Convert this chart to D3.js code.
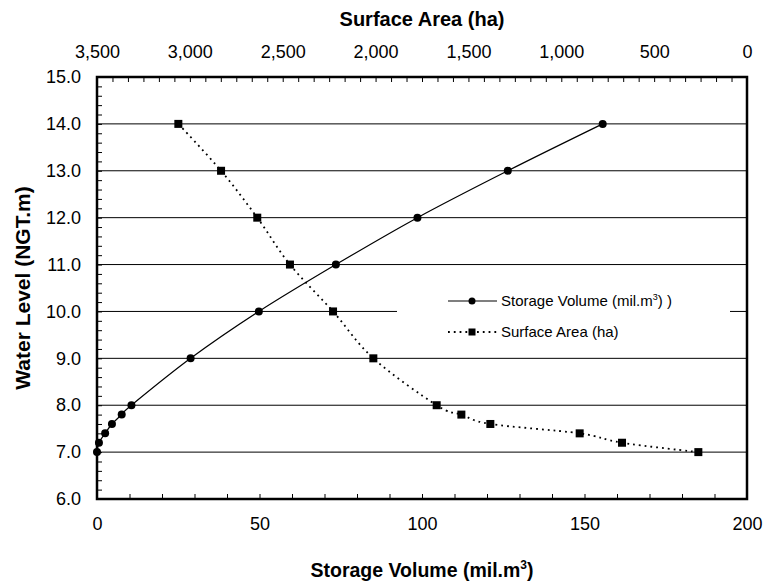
<!DOCTYPE html>
<html>
<head>
<meta charset="utf-8">
<script src="https://cdn.jsdelivr.net/npm/d3@7"></script>
<style>
  body { margin: 0; background: #fff; }
  svg text { font-family: "Liberation Sans", Arial, sans-serif; fill: #000; }
</style>
</head>
<body>
<div id="chart"></div>
<script>
// water level (m) for each surveyed step
const levels = [7.0, 7.2, 7.4, 7.6, 7.8, 8.0, 9.0, 10.0, 11.0, 12.0, 13.0, 14.0];
// storage volume (mil.m3)
const storageVolume = [0, 0.6, 2.5, 4.6, 7.6, 10.6, 28.8, 49.8, 73.5, 98.6, 126.4, 155.6];
// surface area (ha)
const surfaceArea = [262, 673, 901, 1382, 1538, 1671, 2012, 2229, 2461, 2637, 2832, 3062];

const volumeTicks = [0, 50, 100, 150, 200];
const areaTicks = [3500, 3000, 2500, 2000, 1500, 1000, 500, 0];
const levelTicks = [6, 7, 8, 9, 10, 11, 12, 13, 14, 15];
const gridLevels = [7, 8, 9, 10, 11, 12, 13, 14];

const W = 765, H = 584;
const margin = { top: 77, right: 18, bottom: 85, left: 97 };
const width = W - margin.left - margin.right;
const height = H - margin.top - margin.bottom;

const svgRoot = d3.select("#chart").append("svg")
    .attr("width", W)
    .attr("height", H);
const svg = svgRoot.append("g")
    .attr("transform", `translate(${margin.left},${margin.top})`);

const x = d3.scaleLinear().domain([0, 200]).range([0, width]);
const xTop = d3.scaleLinear().domain([3500, 0]).range([0, width]);
const y = d3.scaleLinear().domain([6, 15]).range([height, 0]);

// gridlines
svg.append("g")
    .selectAll("line")
    .data(gridLevels)
    .join("line")
    .attr("x1", 0).attr("x2", width)
    .attr("y1", d => y(d)).attr("y2", d => y(d))
    .attr("stroke", "#000")
    .attr("stroke-width", 1);

// minor (inward) ticks
svg.append("g")
    .attr("transform", `translate(0,${height})`)
    .call(d3.axisBottom(x).tickValues(d3.range(0, 201, 10)).tickSize(-5).tickFormat(""))
    .call(g => g.select(".domain").remove());
svg.append("g")
    .call(d3.axisTop(xTop).tickValues(d3.range(0, 3501, 500 / 6)).tickSize(-5).tickFormat(""))
    .call(g => g.select(".domain").remove());
svg.append("g")
    .call(d3.axisLeft(y).tickValues(d3.range(6, 15.01, 0.2)).tickSize(-5).tickFormat(""))
    .call(g => g.select(".domain").remove());

// labelled axes
const axisFont = g => g.selectAll("text").style("font-size", "18px");
svg.append("g")
    .attr("transform", `translate(0,${height})`)
    .call(d3.axisBottom(x).tickValues(volumeTicks).tickSize(0).tickPadding(18))
    .call(g => g.select(".domain").remove())
    .call(axisFont);
svg.append("g")
    .call(d3.axisTop(xTop).tickValues(areaTicks).tickSize(0).tickPadding(19).tickFormat(d3.format(",")))
    .call(g => g.select(".domain").remove())
    .call(axisFont);
svg.append("g")
    .call(d3.axisLeft(y).tickValues(levelTicks).tickSize(0).tickPadding(16).tickFormat(d3.format(".1f")))
    .call(g => g.select(".domain").remove())
    .call(axisFont);

// frame
svg.append("rect")
    .attr("width", width).attr("height", height)
    .attr("fill", "none")
    .attr("stroke", "#000")
    .attr("stroke-width", 2.5);

// lines
const volLine = d3.line()
    .x((d, i) => x(storageVolume[i]))
    .y(d => y(d))
    .curve(d3.curveCatmullRom.alpha(0));
const areaLine = d3.line()
    .x((d, i) => xTop(surfaceArea[i]))
    .y(d => y(d))
    .curve(d3.curveCatmullRom.alpha(0));

svg.append("path")
    .attr("d", volLine(levels))
    .attr("fill", "none")
    .attr("stroke", "#000")
    .attr("stroke-width", 1.2);
svg.append("path")
    .attr("d", areaLine(levels))
    .attr("fill", "none")
    .attr("stroke", "#000")
    .attr("stroke-width", 1.8)
    .attr("stroke-dasharray", "1.8,4");

svg.append("g")
    .selectAll("circle")
    .data(levels)
    .join("circle")
    .attr("cx", (d, i) => x(storageVolume[i]))
    .attr("cy", d => y(d))
    .attr("r", 4)
    .attr("fill", "#000");
svg.append("g")
    .selectAll("rect")
    .data(levels)
    .join("rect")
    .attr("x", (d, i) => xTop(surfaceArea[i]) - 4)
    .attr("y", d => y(d) - 4)
    .attr("width", 8)
    .attr("height", 8)
    .attr("fill", "#000");

// legend
const legend = svgRoot.append("g");
legend.append("rect")
    .attr("x", 397).attr("y", 278)
    .attr("width", 333).attr("height", 66)
    .attr("fill", "#fff");
const rowY = [301, 332];
legend.append("line")
    .attr("x1", 448).attr("x2", 497)
    .attr("y1", rowY[0]).attr("y2", rowY[0])
    .attr("stroke", "#000").attr("stroke-width", 1.2);
legend.append("circle")
    .attr("cx", 472).attr("cy", rowY[0]).attr("r", 3.5).attr("fill", "#000");
legend.append("line")
    .attr("x1", 448).attr("x2", 497)
    .attr("y1", rowY[1]).attr("y2", rowY[1])
    .attr("stroke", "#000").attr("stroke-width", 1.8)
    .attr("stroke-dasharray", "1.8,4");
legend.append("rect")
    .attr("x", 468.5).attr("y", rowY[1] - 3.5).attr("width", 7).attr("height", 7).attr("fill", "#000");

const t1 = legend.append("text")
    .attr("x", 501).attr("y", rowY[0] + 5)
    .style("font-size", "15px");
t1.append("tspan").text("Storage Volume (mil.m");
t1.append("tspan").attr("dy", -6).style("font-size", "9px").text("3");
t1.append("tspan").attr("dy", 6).text(") )");
legend.append("text")
    .attr("x", 501).attr("y", rowY[1] + 5)
    .style("font-size", "15px")
    .text("Surface Area (ha)");

// axis titles
svgRoot.append("text")
    .attr("x", margin.left + width / 2)
    .attr("y", 26)
    .attr("text-anchor", "middle")
    .style("font-size", "20px")
    .style("font-weight", "bold")
    .text("Surface Area (ha)");

const xt = svgRoot.append("text")
    .attr("x", margin.left + width / 2)
    .attr("y", 577)
    .attr("text-anchor", "middle")
    .style("font-size", "19.5px")
    .style("font-weight", "bold");
xt.append("tspan").text("Storage Volume (mil.m");
xt.append("tspan").attr("dy", -8).style("font-size", "12px").text("3");
xt.append("tspan").attr("dy", 8).text(")");

svgRoot.append("text")
    .attr("transform", `translate(30,${margin.top + height / 2}) rotate(-90)`)
    .attr("text-anchor", "middle")
    .style("font-size", "21px")
    .style("font-weight", "bold")
    .text("Water Level (NGT.m)");
</script>
</body>
</html>
